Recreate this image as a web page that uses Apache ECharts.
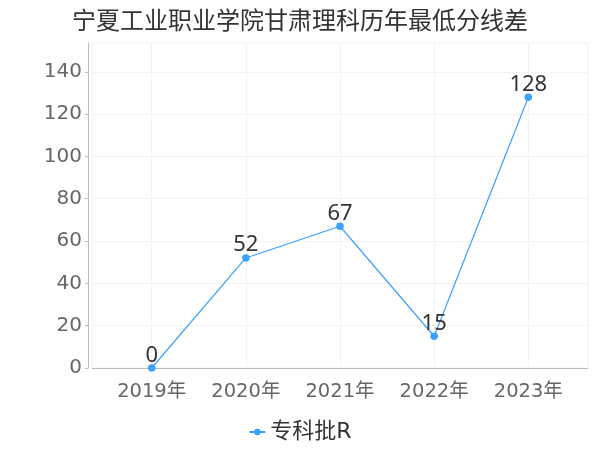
<!DOCTYPE html>
<html>
<head>
<meta charset="utf-8">
<script src="https://cdn.jsdelivr.net/npm/echarts@6/dist/echarts.min.js"></script>
<style>html,body{margin:0;padding:0;background:#fff}#c{width:600px;height:450px}</style>
</head>
<body>
<div id="c"></div>
<script>
var titleText = '宁夏工业职业学院甘肃理科历年最低分线差';
var seriesName = '专科批R';
var years = [2019, 2020, 2021, 2022, 2023];
var values = [0, 52, 67, 15, 128];
var yTicks = [0, 20, 40, 60, 80, 100, 120, 140];

var chart = echarts.init(document.getElementById('c'));
var font = 'DejaVu Sans, "Noto Sans CJK SC", sans-serif';
var labelFont = '"Noto Sans", "Noto Sans CJK SC", sans-serif';
chart.setOption({
  animation: false,
  backgroundColor: '#fff',
  title: {
    text: titleText, left: 'center', top: 6,
    textStyle: { fontSize: 24, fontWeight: 'normal', color: '#333', fontFamily: font }
  },
  legend: {
    bottom: 2, left: 'center',
    data: [seriesName],
    itemWidth: 16, itemHeight: 8, itemGap: 4,
    textStyle: { fontSize: 22, color: '#333', fontFamily: font }
  },
  grid: {
    left: 92, right: 12, top: 43, bottom: 82,
    show: true, borderColor: '#f0f0f0', borderWidth: 1
  },
  xAxis: {
    type: 'value',
    min: years[0] - 0.634,
    max: years[years.length - 1] + 0.634,
    offset: 4,
    axisLine: { show: true, lineStyle: { color: '#bbb' } },
    axisTick: { show: false, customValues: years },
    axisLabel: {
      customValues: years, margin: 10,
      fontSize: 19.5, color: '#666', fontFamily: font,
      formatter: function (v) { return v + '年'; }
    },
    splitLine: { show: true, lineStyle: { color: '#f3f3f3' } }
  },
  yAxis: {
    type: 'value', min: 0, max: 153.6,
    offset: 4,
    axisLine: { show: true, lineStyle: { color: '#bbb' } },
    axisTick: { show: true, length: 3, customValues: yTicks, lineStyle: { color: '#bbb' } },
    axisLabel: { customValues: yTicks, margin: 6, fontSize: 20, color: '#666', fontFamily: font },
    splitLine: { show: true, lineStyle: { color: '#f3f3f3' } }
  },
  series: [{
    name: seriesName,
    type: 'line',
    data: years.map(function (y, i) { return [y, values[i]]; }),
    symbol: 'circle', symbolSize: 7.5,
    itemStyle: { color: '#3ba1ff' },
    lineStyle: { color: '#3ba1ff', width: 1.2 },
    label: { show: true, position: 'top', distance: -2, fontSize: 22, color: '#333', fontFamily: labelFont }
  }]
});
</script>
</body>
</html>
